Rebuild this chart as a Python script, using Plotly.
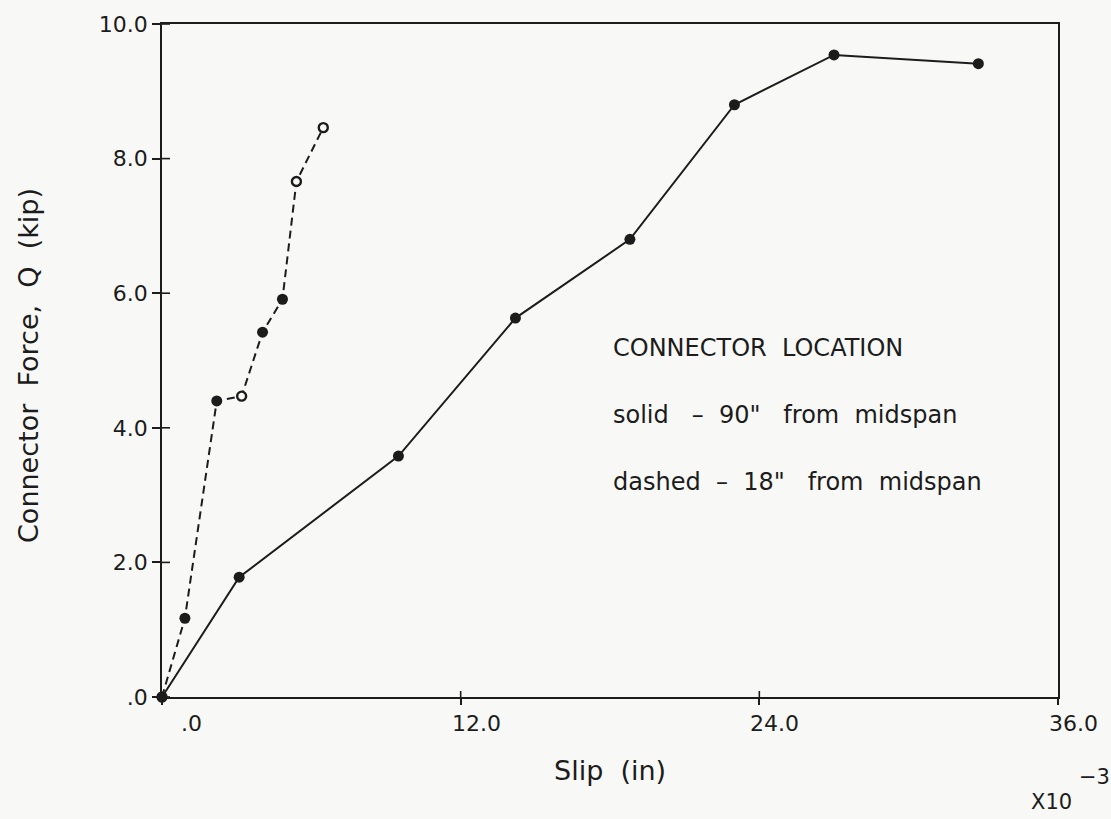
import plotly.graph_objects as go

# ---- data ----
solid_x = [0.0, 3.1, 9.5, 14.2, 18.8, 23.0, 27.0, 32.8]
solid_y = [0.0, 1.78, 3.58, 5.63, 6.8, 8.8, 9.54, 9.41]

dashed_x = [0.0, 0.92, 2.2, 3.2, 4.04, 4.84, 5.4, 6.48]
dashed_y = [0.0, 1.17, 4.4, 4.47, 5.42, 5.91, 7.66, 8.46]
dashed_open = [False, False, False, True, False, False, True, True]

x_tickvals = [0, 12, 24, 36]
x_ticktext = [".0", "12.0", "24.0", "36.0"]
y_tickvals = [0, 2, 4, 6, 8, 10]
y_ticktext = [".0", "2.0", "4.0", "6.0", "8.0", "10.0"]

x_title = "Slip\u00a0 (in)"
y_title = "Connector\u00a0 Force,\u00a0 Q\u00a0 (kip)"
x_scale_text = "X10"
x_scale_exp = "\u22123"
legend_lines = ["CONNECTOR\u00a0 LOCATION",
                "solid\u00a0\u00a0 \u2013\u00a0 90\"\u00a0\u00a0 from\u00a0 midspan",
                "dashed\u00a0 \u2013\u00a0 18\"\u00a0\u00a0 from\u00a0 midspan"]

FONT = "DejaVu Sans"
INK = "#1c1c1c"
BG = "#f8f9f7"

W, H = 1111, 819
L, R, T, B = 162, 53, 22, 122
PW, PH = W - L - R, H - T - B


def px_x(x):
    return (x - L) / PW


def px_y(y):
    return 1 - (y - T) / PH


fig = go.Figure()

# solid series
fig.add_trace(go.Scatter(
    x=solid_x, y=solid_y, mode="lines+markers",
    line=dict(color=INK, width=2),
    marker=dict(symbol="circle", size=11, color=INK),
    showlegend=False, cliponaxis=False))

# dashed series line
fig.add_trace(go.Scatter(
    x=dashed_x, y=dashed_y, mode="lines",
    line=dict(color=INK, width=2, dash="8px,5px"),
    showlegend=False, cliponaxis=False))
# dashed series filled markers
fig.add_trace(go.Scatter(
    x=[x for x, o in zip(dashed_x, dashed_open) if not o],
    y=[y for y, o in zip(dashed_y, dashed_open) if not o],
    mode="markers",
    marker=dict(symbol="circle", size=11, color=INK),
    showlegend=False, cliponaxis=False))
# dashed series open markers
fig.add_trace(go.Scatter(
    x=[x for x, o in zip(dashed_x, dashed_open) if o],
    y=[y for y, o in zip(dashed_y, dashed_open) if o],
    mode="markers",
    marker=dict(symbol="circle", size=9, color=BG,
                line=dict(width=2.4, color=INK)),
    showlegend=False, cliponaxis=False))

shapes = []
# inside halves of ticks (axis draws the outside halves)
for v in y_tickvals:
    shapes.append(dict(type="line", xref="paper", yref="y", xsizemode="pixel",
                       xanchor=0, x0=0, x1=8, y0=v, y1=v,
                       line=dict(color=INK, width=1.6)))
for v in x_tickvals[1:3]:
    shapes.append(dict(type="line", xref="x", yref="paper", ysizemode="pixel",
                       yanchor=0, y0=0, y1=6, x0=v, x1=v,
                       line=dict(color=INK, width=1.6)))

annotations = []
for v, t in zip(x_tickvals, x_ticktext):
    annotations.append(dict(x=v, y=0, xref="x", yref="paper", text=t,
                            showarrow=False, xanchor="right", yanchor="middle",
                            xshift=42, yshift=-26,
                            font=dict(family=FONT, size=22, color=INK)))
for i, t in enumerate(legend_lines):
    annotations.append(dict(x=px_x(611), y=px_y(347 + i * 67),
                            xref="paper", yref="paper",
                            text=t, showarrow=False, xanchor="left",
                            yanchor="middle",
                            font=dict(family=FONT, size=24, color=INK)))
annotations.append(dict(x=px_x(610), y=px_y(771), xref="paper", yref="paper",
                        text=x_title, showarrow=False, xanchor="center",
                        yanchor="middle",
                        font=dict(family=FONT, size=27, color=INK)))
annotations.append(dict(x=px_x(29), y=px_y(365), xref="paper", yref="paper",
                        text=y_title, showarrow=False, textangle=-90,
                        xanchor="center", yanchor="middle",
                        font=dict(family=FONT, size=27, color=INK)))
annotations.append(dict(x=px_x(1051), y=px_y(802), xref="paper", yref="paper",
                        text=x_scale_text, showarrow=False, xanchor="center",
                        yanchor="middle",
                        font=dict(family=FONT, size=21, color=INK)))
annotations.append(dict(x=px_x(1094), y=px_y(777), xref="paper", yref="paper",
                        text=x_scale_exp, showarrow=False, xanchor="center",
                        yanchor="middle",
                        font=dict(family=FONT, size=21, color=INK)))

fig.update_layout(
    width=W, height=H,
    margin=dict(l=L, r=R, t=T, b=B),
    paper_bgcolor=BG, plot_bgcolor=BG,
    font=dict(family=FONT, color=INK),
    shapes=shapes,
    annotations=annotations,
    xaxis=dict(range=[0, 36], showgrid=False, zeroline=False,
               showline=True, linecolor=INK, linewidth=1.7, mirror=True,
               ticks="outside", ticklen=6, tickcolor=INK, tickwidth=1.6,
               tickvals=x_tickvals, showticklabels=False),
    yaxis=dict(range=[0, 10], showgrid=False, zeroline=False,
               showline=True, linecolor=INK, linewidth=1.7, mirror=True,
               ticks="outside", ticklen=8, tickcolor=INK, tickwidth=1.6,
               tickvals=y_tickvals, ticktext=y_ticktext,
               tickfont=dict(family=FONT, size=22, color=INK)),
)

fig.write_html("out.html")
